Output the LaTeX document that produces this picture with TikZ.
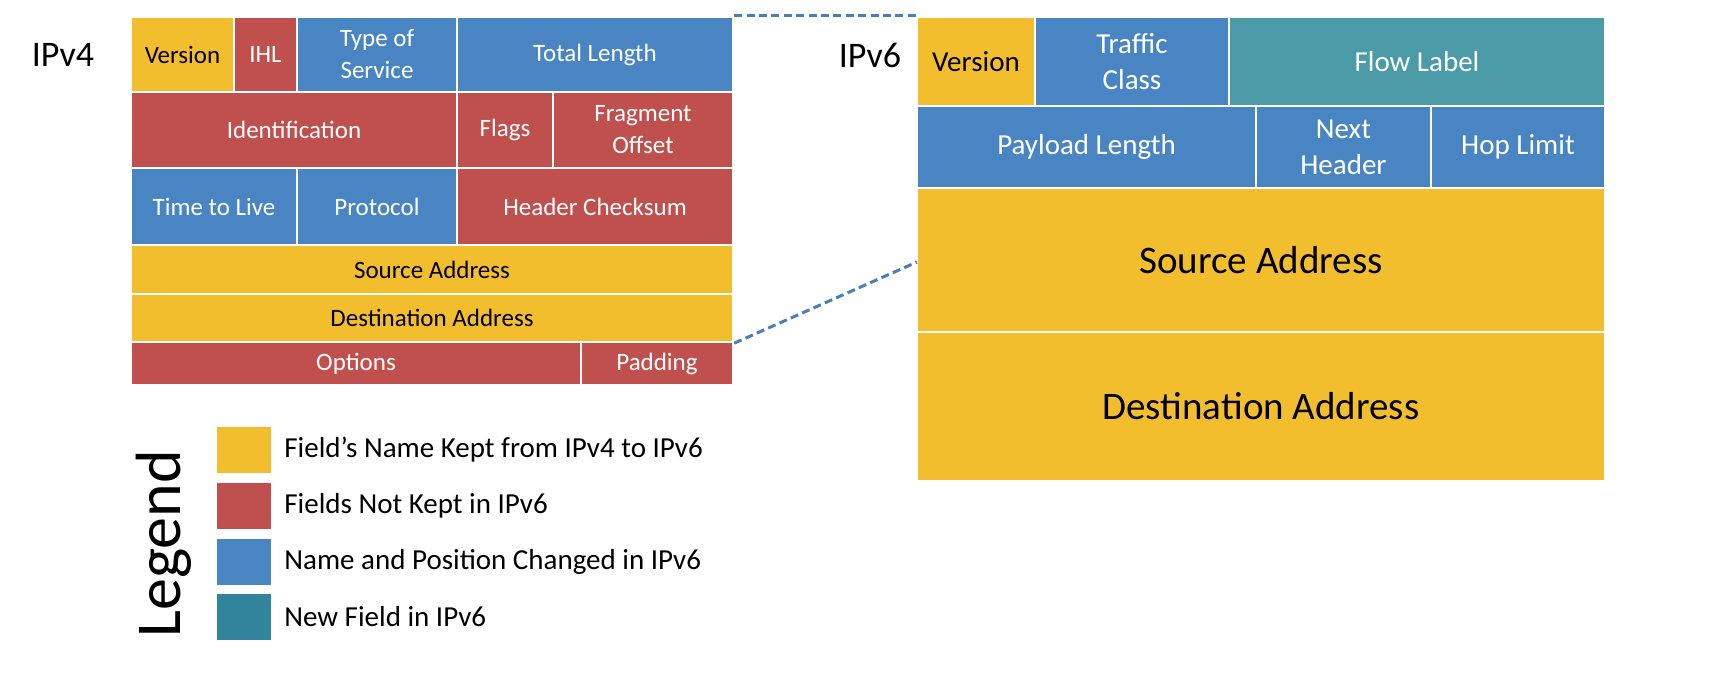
\documentclass[tikz,border=0pt]{standalone}
\usepackage{fontspec}
\setmainfont{Carlito}
\definecolor{fyel}{HTML}{F3BE2E}
\definecolor{fred}{HTML}{C0504D}
\definecolor{fblu}{HTML}{4A85C3}
\definecolor{fteal}{HTML}{4A9AA8}
\definecolor{lteal}{HTML}{31849B}
\definecolor{dashc}{HTML}{4A7EBB}
\tikzset{
  cell/.style={draw=white, line width=1.2pt, inner sep=0pt, align=center},
  ycell/.style={cell, fill=fyel, text=black},
  rcell/.style={cell, fill=fred, text=white},
  bcell/.style={cell, fill=fblu, text=white},
  tcell/.style={cell, fill=fteal, text=white},
  vfour/.style={font=\fontsize{12.5}{16}\selectfont},
  vsix/.style={font=\fontsize{14.5}{18}\selectfont},
  vbig/.style={font=\fontsize{19.5}{23}\selectfont},
  swatch/.style={inner sep=0pt, minimum width=27pt, minimum height=23pt, anchor=north west},
  legtext/.style={anchor=west, inner sep=0pt, font=\fontsize{14.5}{17}\selectfont},
  hdr/.style={inner sep=0pt, font=\fontsize{18}{21}\selectfont},
  link/.style={draw=dashc, line width=1.5pt, dash pattern=on 4pt off 2.2pt}
}
\newcommand\cellbox[7]{%
  \pgfmathsetmacro\cw{(#4-#2)*0.5}%
  \pgfmathsetmacro\ch{(#5-#3)*0.5}%
  \node[#6, minimum width=\cw pt, minimum height=\ch pt] (#1) at ({(#2+#4)/2},{(#3+#5)/2}) {#7};}
\begin{document}
\begin{tikzpicture}[x=0.5pt, y=-0.5pt]
\useasboundingbox (0,0) rectangle (1715,673);
% IPv4
\node[hdr] (ipv4) at (63,55) {IPv4};
\cellbox{v4ver}{131}{17}{234}{92}{ycell,vfour}{Version}
\cellbox{v4ihl}{234}{17}{297}{92}{rcell,vfour}{IHL}
\cellbox{v4tos}{297}{17}{457}{92}{bcell,vfour}{Type of\\Service}
\cellbox{v4len}{457}{17}{733}{92}{bcell,vfour}{Total Length}
\cellbox{v4id}{131}{92}{457}{168}{rcell,vfour}{Identification}
\cellbox{v4flg}{457}{92}{553}{168}{rcell,vfour}{Flags}
\cellbox{v4frag}{553}{92}{733}{168}{rcell,vfour}{Fragment\\Offset}
\cellbox{v4ttl}{131}{168}{297}{245}{bcell,vfour}{Time to Live}
\cellbox{v4prot}{297}{168}{457}{245}{bcell,vfour}{Protocol}
\cellbox{v4chk}{457}{168}{733}{245}{rcell,vfour}{Header Checksum}
\cellbox{v4src}{131}{245}{733}{294}{ycell,vfour}{Source Address}
\cellbox{v4dst}{131}{294}{733}{342}{ycell,vfour}{Destination Address}
\cellbox{v4opt}{131}{342}{581}{385}{rcell,vfour}{Options}
\cellbox{v4pad}{581}{342}{733}{385}{rcell,vfour}{Padding}
% IPv6
\node[hdr] (ipv6) at (870,55) {IPv6};
\cellbox{v6ver}{917}{17}{1035}{106}{ycell,vsix}{Version}
\cellbox{v6tc}{1035}{17}{1229}{106}{bcell,vsix}{Traffic\\Class}
\cellbox{v6fl}{1229}{17}{1605}{106}{tcell,vsix}{Flow Label}
\cellbox{v6pl}{917}{106}{1256}{188}{bcell,vsix}{Payload Length}
\cellbox{v6nh}{1256}{106}{1431}{188}{bcell,vsix}{Next\\Header}
\cellbox{v6hl}{1431}{106}{1605}{188}{bcell,vsix}{Hop Limit}
\cellbox{v6src}{917}{188}{1605}{332}{ycell,vbig}{Source Address}
\cellbox{v6dst}{917}{332}{1605}{481}{ycell,vbig}{Destination Address}
% connectors
\coordinate (srcin) at (917,262);
\draw[link] (v4len.north east) -- (v6ver.north west);
\draw[link] (v4dst.south east) -- (srcin);
% legend
\node[rotate=90, inner sep=0pt, font=\fontsize{32}{36}\selectfont] (legend) at (164,544) {Legend};
\node[swatch, fill=fyel] (sw1) at (217,427) {};
\node[swatch, fill=fred] (sw2) at (217,483) {};
\node[swatch, fill=fblu] (sw3) at (217,539) {};
\node[swatch, fill=lteal] (sw4) at (217,594) {};
\node[legtext] (lt1) at (284,450) {Field’s Name Kept from IPv4 to IPv6};
\node[legtext] (lt2) at (284,506) {Fields Not Kept in IPv6};
\node[legtext] (lt3) at (284,562) {Name and Position Changed in IPv6};
\node[legtext] (lt4) at (284,617) {New Field in IPv6};
\end{tikzpicture}
\end{document}
